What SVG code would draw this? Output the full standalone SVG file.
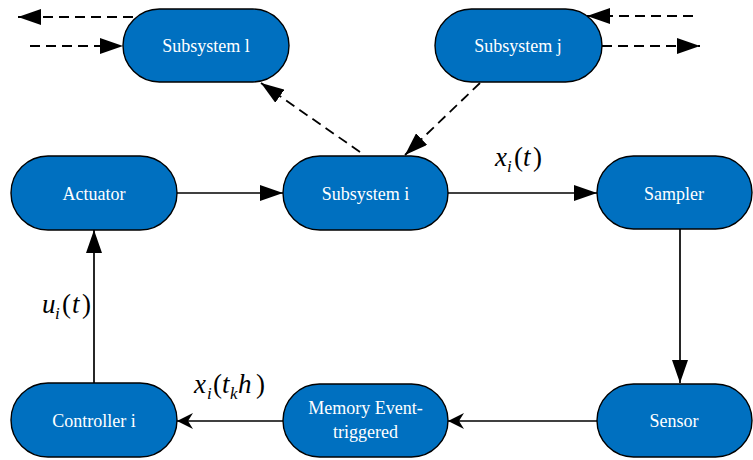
<svg xmlns="http://www.w3.org/2000/svg" width="753" height="460" viewBox="0 0 753 460">
<style>
.node rect{fill:#0070C0;stroke:#000;stroke-width:1.4}
.node text{fill:#fff;font-family:'Liberation Serif','Times New Roman','DejaVu Serif',serif;font-size:18px;text-anchor:middle}
.c{stroke:#000;stroke-width:1.7;fill:none}
.d{stroke-dasharray:10,6;stroke-width:1.8}
.m{font-family:'Liberation Serif','Times New Roman','DejaVu Serif',serif;font-size:27px;font-style:italic;fill:#000}
.up{font-style:normal}
.sb{font-size:17px}
</style>
<defs>
<marker id="tri" markerUnits="userSpaceOnUse" markerWidth="24" markerHeight="16" refX="23" refY="8" orient="auto"><path d="M0,0 L23,8 L0,16 z" fill="#000"/></marker>
<marker id="notch" markerUnits="userSpaceOnUse" markerWidth="17" markerHeight="16" refX="16" refY="8" orient="auto"><path d="M16,8 L0,0 L5,8 L0,16 z" fill="#000"/></marker>
</defs>
<g id="connectors">
<line class="c" x1="177" y1="193" x2="283" y2="193" marker-end="url(#tri)"/>
<line class="c" x1="448" y1="193" x2="597" y2="193" marker-end="url(#tri)"/>
<line class="c" x1="680" y1="229" x2="680" y2="383" marker-end="url(#tri)"/>
<line class="c" x1="597" y1="421" x2="448" y2="421" marker-end="url(#notch)"/>
<line class="c" x1="283" y1="421" x2="177" y2="421" marker-end="url(#notch)"/>
<line class="c" x1="94" y1="383" x2="94" y2="230" marker-end="url(#tri)"/>
<line class="c d" x1="360" y1="152" x2="261" y2="83" marker-end="url(#tri)"/>
<line class="c d" x1="480" y1="83" x2="405" y2="155" marker-end="url(#tri)"/>
<line class="c d" x1="133" y1="17" x2="18" y2="17" marker-end="url(#tri)"/>
<line class="c d" x1="30" y1="46" x2="123" y2="46" marker-end="url(#tri)"/>
<line class="c d" x1="693" y1="16" x2="587" y2="16" marker-end="url(#tri)"/>
<line class="c d" x1="602" y1="46" x2="700" y2="46" marker-end="url(#tri)"/>
</g>
<g id="labels">
<text class="m"><tspan x="495" y="166">x</tspan><tspan class="sb" x="507" y="172">i</tspan><tspan class="up" x="514" y="166">(</tspan><tspan x="523" y="166">t</tspan><tspan class="up" x="533" y="166">)</tspan></text>
<text class="m"><tspan x="42" y="313">u</tspan><tspan class="sb" x="55" y="319">i</tspan><tspan class="up" x="62" y="313">(</tspan><tspan x="72" y="313">t</tspan><tspan class="up" x="82" y="313">)</tspan></text>
<text class="m"><tspan x="194" y="393">x</tspan><tspan class="sb" x="207" y="399">i</tspan><tspan class="up" x="213" y="393">(</tspan><tspan x="222" y="393">t</tspan><tspan class="sb" x="230" y="399">k</tspan><tspan x="238" y="393">h</tspan><tspan class="up" x="256" y="393">)</tspan></text>
</g>
<g id="subsystem-l" class="node"><rect x="123" y="9" width="166" height="73" rx="36.5"/><text x="206" y="52">Subsystem l</text></g>
<g id="subsystem-j" class="node"><rect x="435" y="9" width="167" height="73" rx="36.5"/><text x="518" y="52">Subsystem j</text></g>
<g id="actuator" class="node"><rect x="11" y="156" width="166" height="74" rx="37"/><text x="94" y="200">Actuator</text></g>
<g id="subsystem-i" class="node"><rect x="283" y="156" width="165" height="74" rx="37"/><text x="365.5" y="200">Subsystem i</text></g>
<g id="sampler" class="node"><rect x="597" y="156" width="155" height="73" rx="36.5"/><text x="674" y="200">Sampler</text></g>
<g id="controller-i" class="node"><rect x="11" y="383" width="166" height="74" rx="37"/><text x="94" y="427">Controller i</text></g>
<g id="memory-event-triggered" class="node"><rect x="283" y="384" width="165" height="73" rx="36.5"/><text x="365.5" y="414">Memory Event-</text><text x="365.5" y="438">triggered</text></g>
<g id="sensor" class="node"><rect x="597" y="384" width="155" height="73" rx="36.5"/><text x="674" y="427">Sensor</text></g>
</svg>
